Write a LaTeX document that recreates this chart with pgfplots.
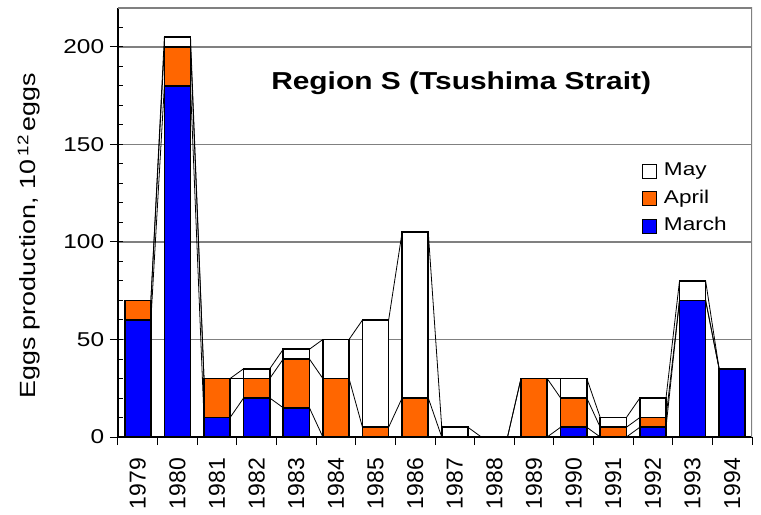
\documentclass[border=0pt]{standalone}
\usepackage{fontspec}
\setmainfont{Liberation Sans}[FakeStretch=1.22]
\newfontfamily\plainfont{Liberation Sans}
\usepackage{pgfplots}
\pgfplotsset{compat=1.18}
\usetikzlibrary{calc}

\definecolor{marchblue}{RGB}{0,0,255}
\definecolor{aprilorange}{RGB}{255,102,0}
\definecolor{gridgray}{RGB}{128,128,128}

\pgfplotsset{
  boxlegend/.style={legend image code/.code={\draw[##1,line width=1.1bp] (0bp,-7bp) rectangle (14bp,7bp);}},
  serieslines/.style={stack plots=false, sharp plot, no marks, black, line width=0.8bp, fill=none, forget plot},
}

\begin{document}
\fontsize{20bp}{24bp}\selectfont
\begin{tikzpicture}
  \begin{axis}[
    width=634bp, height=429bp, scale only axis,
    ybar stacked, bar width=0.66,
    xmin=-0.5, xmax=15.5, ymin=0, ymax=220,
    axis x line*=bottom, axis y line*=left,
    axis line style={black, line width=1.1bp},
    xtick={-0.5,0.5,...,15.5},
    x tick label as interval,
    xticklabels={1979,1980,1981,1982,1983,1984,1985,1986,1987,1988,1989,1990,1991,1992,1993,1994},
    xticklabel style={rotate=90, anchor=east, xshift=-6bp, font=\plainfont\fontsize{23bp}{26bp}\selectfont},
    ytick={0,50,...,200},
    minor ytick={10,20,...,210},
    yticklabel style={font=\fontsize{20bp}{24bp}\selectfont, xshift=1bp},
    /pgf/number format/assume math mode=true,
    tick align=outside,
    major tick length=8bp, minor tick length=5bp,
    tick style={black, line width=1bp},
    every minor y tick/.append style={xshift=5bp},
    ymajorgrids, grid style={gridgray, line width=1.1bp},
    ylabel={Eggs production, 10\,\textsuperscript{12}\,eggs},
    every axis y label/.style={at={(axis description cs:-0.1404,0.469)}, rotate=90, anchor=center, font=\fontsize{22bp}{26bp}\selectfont},
    reverse legend,
    legend cell align=left,
    legend style={draw=none, fill=none, at={(rel axis cs:0.826,0.647)}, anchor=north west,
      inner sep=0pt, row sep=4.5bp, column sep=4bp,
      nodes={text height=13bp, text depth=4bp, inner sep=3bp},
      font=\fontsize{18.5bp}{22bp}\selectfont},
  ]
  % March
  \addplot[fill=marchblue, draw=black, line width=1.6bp, boxlegend] coordinates {
    (0,60) (1,180) (2,10) (3,20) (4,15) (5,0) (6,0) (7,0)
    (8,0) (9,0) (10,0) (11,5) (12,0) (13,5) (14,70) (15,35)};
  % April
  \addplot[fill=aprilorange, draw=black, line width=1.6bp, boxlegend] coordinates {
    (0,10) (1,20) (2,20) (3,10) (4,25) (5,30) (6,5) (7,20)
    (8,0) (9,0) (10,30) (11,15) (12,5) (13,5) (14,0) (15,0)};
  % May
  \addplot[fill=white, draw=black, line width=1.6bp, boxlegend] coordinates {
    (0,0) (1,5) (2,0) (3,5) (4,5) (5,20) (6,55) (7,85)
    (8,5) (9,0) (10,0) (11,10) (12,5) (13,10) (14,10) (15,0)};
  \legend{March, April, May}

  % series lines joining the stack levels of neighbouring bars
  \addplot[serieslines] coordinates {
    (0.33,60) (0.67,180) (1.33,180) (1.67,10) (2.33,10) (2.67,20) (3.33,20) (3.67,15)
    (4.33,15) (4.67,0) (5.33,0) (5.67,0) (6.33,0) (6.67,0) (7.33,0) (7.67,0)
    (8.33,0) (8.67,0) (9.33,0) (9.67,0) (10.33,0) (10.67,5) (11.33,5) (11.67,0)
    (12.33,0) (12.67,5) (13.33,5) (13.67,70) (14.33,70) (14.67,35)};
  \addplot[serieslines] coordinates {
    (0.33,70) (0.67,200) (1.33,200) (1.67,30) (2.33,30) (2.67,30) (3.33,30) (3.67,40)
    (4.33,40) (4.67,30) (5.33,30) (5.67,5) (6.33,5) (6.67,20) (7.33,20) (7.67,0)
    (8.33,0) (8.67,0) (9.33,0) (9.67,30) (10.33,30) (10.67,20) (11.33,20) (11.67,5)
    (12.33,5) (12.67,10) (13.33,10) (13.67,70) (14.33,70) (14.67,35)};
  \addplot[serieslines] coordinates {
    (0.33,70) (0.67,205) (1.33,205) (1.67,30) (2.33,30) (2.67,35) (3.33,35) (3.67,45)
    (4.33,45) (4.67,50) (5.33,50) (5.67,60) (6.33,60) (6.67,105) (7.33,105) (7.67,5)
    (8.33,5) (8.67,0) (9.33,0) (9.67,30) (10.33,30) (10.67,30) (11.33,30) (11.67,10)
    (12.33,10) (12.67,20) (13.33,20) (13.67,80) (14.33,80) (14.67,35)};

  \draw[gridgray, line width=1.1bp] (rel axis cs:0,1) -- (rel axis cs:1,1) -- (rel axis cs:1,0);
  \node[anchor=base, font=\bfseries\fontsize{24.5bp}{29bp}\selectfont] at (axis cs:8.16,178) {Region S (Tsushima Strait)};
  \end{axis}
  \pgfresetboundingbox
  \path ($(current axis.south west)+(-118bp,-77.5bp)$) rectangle ($(current axis.north east)+(9bp,8bp)$);
\end{tikzpicture}
\end{document}
